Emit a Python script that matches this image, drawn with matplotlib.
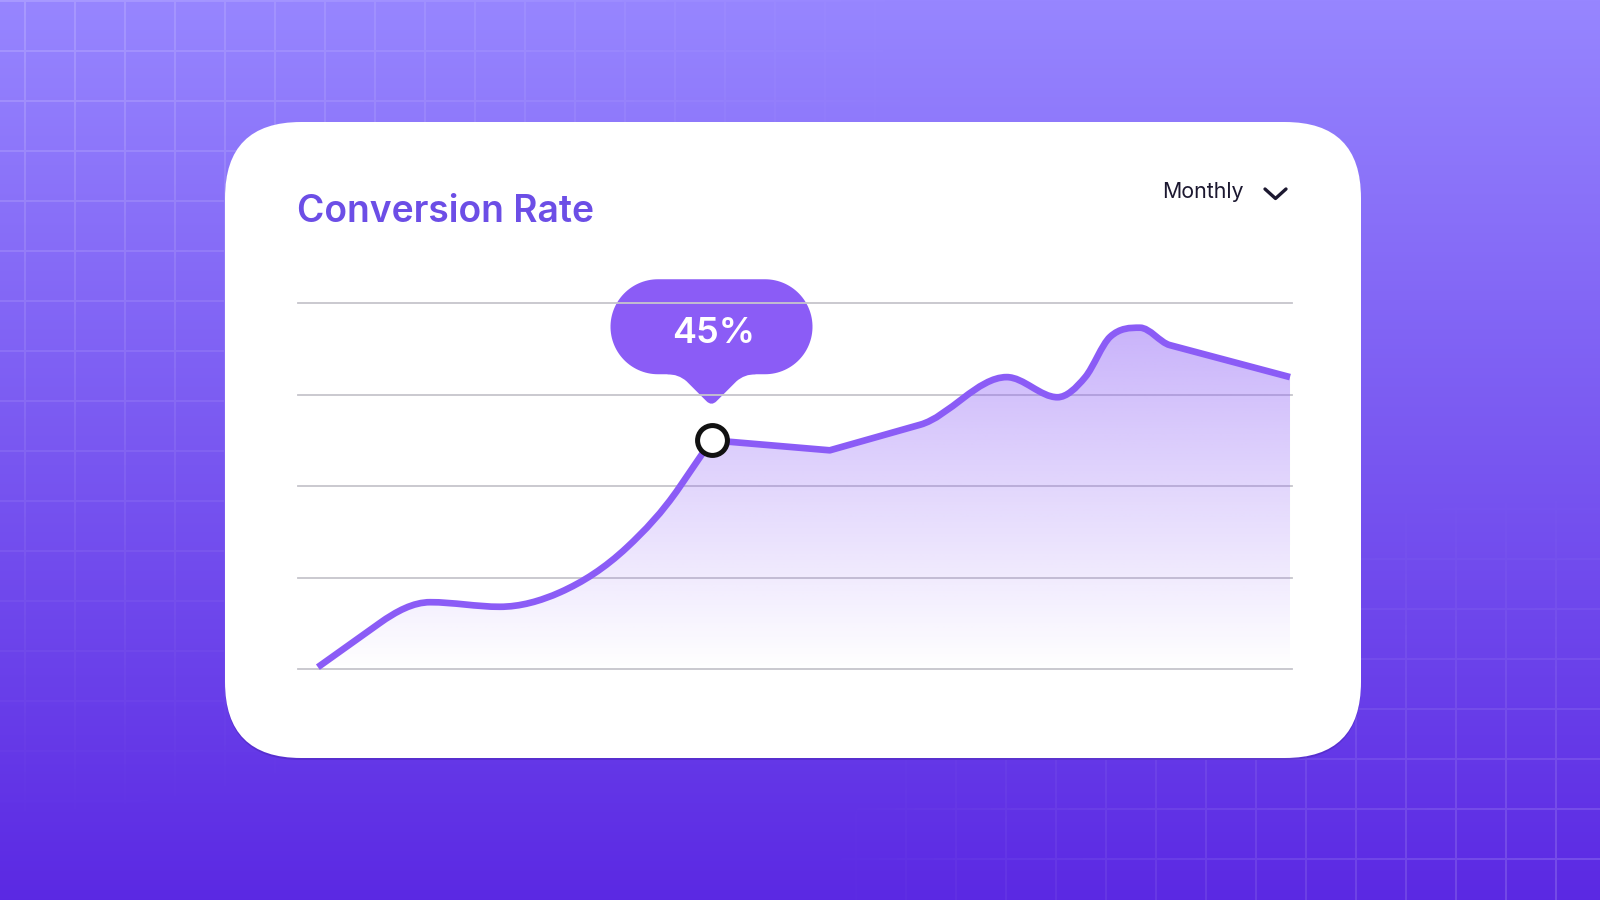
import matplotlib
matplotlib.use("Agg")
import matplotlib.pyplot as plt
import numpy as np
from matplotlib.patches import FancyBboxPatch, PathPatch
from matplotlib.path import Path

# Data (x = position in the period, 0-100; y = conversion rate %)
period_pos = [2.0, 8.2, 13.3, 20.3, 26.4, 33.1, 38.4, 41.6, 53.5, 62.6, 71.3, 76.4,
              79.2, 81.7, 84.7, 87.7, 99.8]
conv_rate = [20.2, 25.0, 27.3, 26.8, 28.4, 33.3, 39.9, 45.0, 43.9, 46.7, 51.9, 49.7,
             51.9, 56.3, 57.3, 55.4, 51.9]
corner_idx = [0, 7, 8, 16]   # points where the curve bends sharply
grid_levels = [20, 30, 40, 50, 60]
highlight_idx = 7
highlight_label = "45%"
title = "Conversion Rate"
period_label = "Monthly"

violet = "#8b5cf6"
W, H = 1600, 900


def smooth_path(xs, ys, corners):
    # monotone cubic through the points, drawn as bezier segments;
    # segments next to a corner are kept straight
    xs = np.asarray(xs, float)
    ys = np.asarray(ys, float)
    n = len(xs)
    h = np.diff(xs)
    d = np.diff(ys) / h
    s_in = np.zeros(n)
    s_out = np.zeros(n)
    for i in range(n):
        if i == 0:
            s_in[i] = s_out[i] = d[0]
        elif i == n - 1:
            s_in[i] = s_out[i] = d[-1]
        elif i in corners:
            s_in[i], s_out[i] = d[i - 1], d[i]
        elif i - 1 in corners:
            s_in[i] = s_out[i] = d[i - 1]
        elif i + 1 in corners:
            s_in[i] = s_out[i] = d[i]
        elif d[i - 1] * d[i] <= 0:
            s_in[i] = s_out[i] = 0
        else:
            m = (h[i] * d[i - 1] + h[i - 1] * d[i]) / (h[i - 1] + h[i])
            lim = 3 * min(abs(d[i - 1]), abs(d[i]))
            m = np.sign(m) * min(abs(m), lim)
            s_in[i] = s_out[i] = m
    verts = [(xs[0], ys[0])]
    codes = [Path.MOVETO]
    for i in range(n - 1):
        verts += [(xs[i] + h[i] / 3, ys[i] + s_out[i] * h[i] / 3),
                  (xs[i + 1] - h[i] / 3, ys[i + 1] - s_in[i + 1] * h[i] / 3),
                  (xs[i + 1], ys[i + 1])]
        codes += [Path.CURVE4] * 3
    return np.array(verts), codes


fig = plt.figure(figsize=(16, 9), dpi=100)

# background axes in pixel coords (y down)
bg = fig.add_axes([0, 0, 1, 1])
bg.set_xlim(0, W)
bg.set_ylim(H, 0)
bg.axis("off")

yy = np.linspace(0, 1, H)[:, None]
top = np.array([151, 134, 255]) / 255
bot = np.array([91, 41, 227]) / 255
grad = top + (bot - top) * yy[..., None]
grad = np.broadcast_to(grad, (H, W, 3))
bg.imshow(grad, extent=[0, W, H, 0], aspect="auto", zorder=0)

# faint background grid, strongest in top-left and bottom-right
X, Y = np.meshgrid(np.arange(W), np.arange(H))
g_tl = (((X - 24) % 50) < 2) | ((Y % 50) < 2)
g_br = (((X - 5) % 50) < 2) | (((Y - 8) % 50) < 2)
w_tl = np.clip(1 - np.sqrt((X / 950) ** 2 + (Y / 850) ** 2), 0, 1)
w_br = np.clip(1 - np.sqrt(((W - X) / 800) ** 2 + ((H - Y) / 420) ** 2), 0, 1)
alpha = np.maximum(g_tl * w_tl, g_br * w_br) * 0.17
grid_img = np.zeros((H, W, 4))
grid_img[..., :3] = 1
grid_img[..., 3] = alpha
bg.imshow(grid_img, extent=[0, W, H, 0], aspect="auto", zorder=1)

# card
shadow = FancyBboxPatch((225, 124), 1136, 636, boxstyle="round,pad=0,rounding_size=76",
                        facecolor="#3a1a9a", edgecolor="none", alpha=0.3, zorder=2)
bg.add_patch(shadow)
card = FancyBboxPatch((225, 122), 1136, 636, boxstyle="round,pad=0,rounding_size=76",
                      facecolor="white", edgecolor="none", zorder=3)
bg.add_patch(card)

bg.text(297, 222, title, fontsize=26.8, fontweight="semibold", family="Inter",
        color="#6c4ee6", va="baseline", ha="left", zorder=5)
bg.text(1162, 198, period_label, fontsize=15.4, family="Inter", color="#1c1830",
        va="baseline", ha="left", zorder=5)
bg.plot([1265, 1275.5, 1286], [189, 198.5, 189], color="#1c1830", lw=2.4,
        solid_capstyle="round", solid_joinstyle="round", zorder=5)

# chart axes
ax = fig.add_axes([298 / W, (H - 669) / H, (1292 - 298) / W, (669 - 303) / H])
ax.set_xlim(0, 100)
ax.set_ylim(20, 60)
ax.axis("off")
ax.patch.set_alpha(0)

for lv in grid_levels:
    ax.axhline(lv, color="#c6c5cc", lw=1.3, zorder=1, clip_on=False)

x = np.array(period_pos)
y = np.array(conv_rate)
cv, cc = smooth_path(x, y, corner_idx)

# gradient fill under the curve
fv = np.vstack([cv, [[x[-1], 20], [x[0], 20], [x[0], y[0]]]])
fc = cc + [Path.LINETO, Path.LINETO, Path.CLOSEPOLY]
clip = PathPatch(Path(fv, fc), facecolor="none", edgecolor="none", transform=ax.transData)
ax.add_patch(clip)
gy = np.linspace(20, 60, 256)
fill = np.zeros((256, 2, 4))
fill[..., :3] = matplotlib.colors.to_rgb(violet)
fill[..., 3] = np.clip(0.5 * (gy - 20) / 40, 0, 1)[:, None]
im = ax.imshow(fill, extent=[x[0], x[-1], 20, 60], origin="lower", aspect="auto", zorder=2)
im.set_clip_path(clip)

ax.add_patch(PathPatch(Path(cv, cc), facecolor="none", edgecolor=violet, lw=4.8,
                       joinstyle="round", capstyle="butt", zorder=3, clip_on=False))
ax.plot(x[highlight_idx], y[highlight_idx], "o", ms=21.5, mfc="white", mec="#111111",
        mew=3.6, zorder=4, clip_on=False)

# tooltip bubble, positioned from the highlighted point
disp = ax.transData.transform((x[highlight_idx], y[highlight_idx]))
px, py = bg.transData.inverted().transform(disp)

r = 47.5
cy = py - 66 - r
half = 101 - r
t = np.linspace(-np.pi / 2, np.pi / 2, 60)
right = np.column_stack([px + half + r * np.cos(t), cy + r * np.sin(t)])
left = np.column_stack([px - half - r * np.cos(t), cy - r * np.sin(t)])
pill = np.vstack([right, left])
bg.add_patch(PathPatch(Path(np.vstack([pill, pill[:1]]),
                            [Path.MOVETO] + [Path.LINETO] * (len(pill) - 1) + [Path.CLOSEPOLY]),
                       facecolor=violet, edgecolor="none", zorder=6))
pts = [(px - 44, py - 80), (px - 44, py - 66), (px - 33, py - 66), (px - 25, py - 59),
       (px - 5, py - 39), (px, py - 34), (px + 5, py - 39), (px + 25, py - 59),
       (px + 33, py - 66), (px + 44, py - 66), (px + 44, py - 80), (px - 44, py - 80)]
codes = [Path.MOVETO, Path.LINETO, Path.CURVE3, Path.CURVE3, Path.LINETO, Path.CURVE3,
         Path.CURVE3, Path.LINETO, Path.CURVE3, Path.CURVE3, Path.LINETO, Path.CLOSEPOLY]
bg.add_patch(PathPatch(Path(pts, codes), facecolor=violet, edgecolor="none", zorder=6))
bg.text(px + 2, py - 107, highlight_label, fontsize=26, fontweight="semibold", family="Inter",
        color="white", ha="center", va="center", zorder=7)

fig.savefig("out.png", dpi=100)
